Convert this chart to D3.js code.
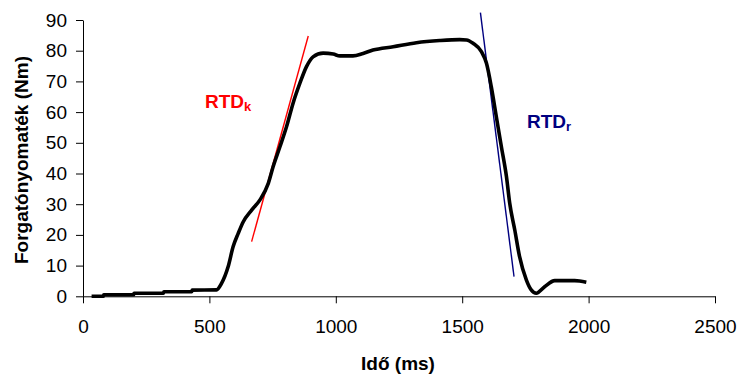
<!DOCTYPE html>
<html>
<head>
<meta charset="utf-8">
<script src="https://cdn.jsdelivr.net/npm/d3@7"></script>
<style>
  body { margin: 0; background: #fff; }
  #svgRoot { width: 741px; height: 376px; display: block; }
</style>
</head>
<body>
<svg id="svgRoot" width="741" height="376"></svg>
<script>
// torque curve (ms, Nm)
const time_ms = [34, 80, 82, 200, 202, 318, 320, 430, 432, 528, 548, 574, 594, 614, 634, 667, 700, 733, 752, 779, 805, 831, 858, 884, 910, 950, 990, 1016, 1068, 1108, 1147, 1227, 1319, 1411, 1490, 1517, 1543, 1576, 1596, 1615, 1635, 1655, 1675, 1688, 1708, 1727, 1754, 1773, 1793, 1826, 1866, 1945, 1991]
const torque_nm = [0, 0, 0.5, 0.5, 1, 1, 1.5, 1.5, 2, 2.1, 4.2, 9.6, 16.2, 20.5, 24.3, 28.1, 31.4, 36.8, 42.2, 48.7, 55.2, 62.9, 69.4, 74.8, 78.0, 79.2, 78.9, 78.3, 78.3, 79.1, 80.2, 81.3, 82.6, 83.3, 83.6, 83.5, 82.4, 79.7, 75.9, 68.3, 58.5, 48.7, 39, 30.3, 21.6, 12.9, 5.3, 2.1, 1.0, 3.1, 5.1, 5.1, 4.6]

// tangent lines (rate of torque development)
const rtd_k_time = [667, 891]
const rtd_k_torque = [17.8, 84.8]
const rtd_r_time = [1572, 1705]
const rtd_r_torque = [92.4, 6.4]

const x_ticks = [0, 500, 1000, 1500, 2000, 2500]
const y_ticks = [0, 10, 20, 30, 40, 50, 60, 70, 80, 90]

let svg = d3.select("#svgRoot")

let g_axes = svg.append("g").attr("class", "g_axes")
let g_lines = svg.append("g").attr("class", "g_lines")
let g_labels = svg.append("g").attr("class", "g_labels")

const font = "'Liberation Sans', Arial, sans-serif"

function drawVis() {
  let scale_x = d3.scaleLinear().domain([0, 2500]).range([83, 715])
  let scale_y = d3.scaleLinear().domain([0, 90]).range([296.3, 20])

  g_axes.append("g")
    .attr("transform", "translate(0, " + scale_y(0) + ")")
    .call(d3.axisBottom(scale_x).tickValues(x_ticks).tickSizeInner(7).tickSizeOuter(0).tickPadding(16).tickFormat(d3.format("d")))

  g_axes.append("g")
    .attr("transform", "translate(" + scale_x(0) + ", 0)")
    .call(d3.axisLeft(scale_y).tickValues(y_ticks).tickSizeInner(7).tickSizeOuter(0).tickPadding(9))

  g_axes.selectAll("path.domain").attr("stroke", "#000")
  g_axes.selectAll(".tick line").attr("stroke", "#000")
  g_axes.selectAll(".tick text")
    .attr("font-family", font)
    .attr("font-size", "19px")
    .attr("fill", "#000")

  let straight = d3.line().x((d) => scale_x(d[0])).y((d) => scale_y(d[1]))

  g_lines.append("path")
    .datum(rtd_k_time.map((t, i) => [t, rtd_k_torque[i]]))
    .attr("d", straight)
    .attr("stroke", "#ff0000")
    .attr("stroke-width", 1.4)
    .attr("fill", "none")

  g_lines.append("path")
    .datum(rtd_r_time.map((t, i) => [t, rtd_r_torque[i]]))
    .attr("d", straight)
    .attr("stroke", "#000080")
    .attr("stroke-width", 1.4)
    .attr("fill", "none")

  let curve = d3.line()
    .x((d) => scale_x(d[0]))
    .y((d) => scale_y(d[1]))
    .curve(d3.curveMonotoneX)

  g_lines.append("path")
    .datum(time_ms.map((t, i) => [t, torque_nm[i]]))
    .attr("d", curve)
    .attr("stroke", "#000")
    .attr("stroke-width", 3.6)
    .attr("stroke-linejoin", "round")
    .attr("fill", "none")

  // labels for the tangents
  let k = g_labels.append("text")
    .attr("x", 205).attr("y", 108)
    .attr("font-family", font).attr("font-weight", "bold").attr("font-size", "19px")
    .attr("fill", "#ff0000")
  k.append("tspan").text("RTD")
  k.append("tspan").text("k").attr("font-size", "13px").attr("dy", 3)

  let r = g_labels.append("text")
    .attr("x", 527).attr("y", 128)
    .attr("font-family", font).attr("font-weight", "bold").attr("font-size", "19px")
    .attr("fill", "#000080")
  r.append("tspan").text("RTD")
  r.append("tspan").text("r").attr("font-size", "13px").attr("dy", 3)

  addAxisTitle(["Forgatónyomaték (Nm)", "Idő (ms)"])
}

function addAxisTitle(axisTitles) {
  g_labels.selectAll(".axisTitle").data(axisTitles)
    .enter()
    .append("text")
    .attr("class", "axisTitle")
    .text((d) => d)
    .attr("text-anchor", "middle")
    .attr("transform", (d, i) => {
      if (i > 0) {
        return "translate(398, 370)"
      } else {
        return "translate(28, 160) rotate(-90)"
      }
    })
    .attr("font-family", font)
    .attr("font-weight", "bold")
    .attr("font-size", "19px")
}

drawVis()
</script>
</body>
</html>
